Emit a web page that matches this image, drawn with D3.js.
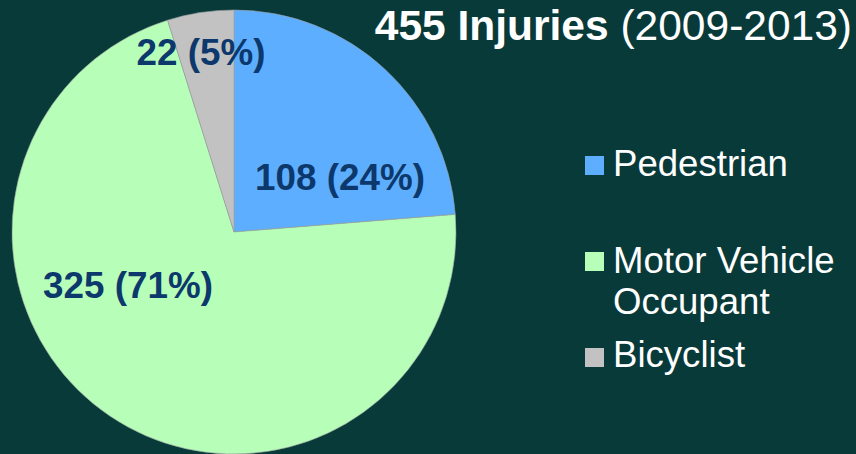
<!DOCTYPE html>
<html><head><meta charset="utf-8">
<script src="https://cdn.jsdelivr.net/npm/d3@7"></script>
<style>html,body{margin:0;padding:0;background:#093a3a;}svg{display:block;}</style>
</head><body>
<svg id="c" width="856" height="454"></svg>
<script>
const categories = ["Pedestrian", "Motor Vehicle Occupant", "Bicyclist"];
const values = [108, 325, 22];
const percents = ["24%", "71%", "5%"];
const legendLines = [["Pedestrian"], ["Motor Vehicle", "Occupant"], ["Bicyclist"]];
const colors = ["#5eaeff", "#b7ffb9", "#c2c2c2"];

const svg = d3.select("#c");
const W = 856, H = 454;
svg.append("rect").attr("width", W).attr("height", H).attr("fill", "#093a3a");

const cx = 234, cy = 232, R = 222;
const pie = d3.pie().sort(null).value(d => d)(values);
const arc = d3.arc().innerRadius(0).outerRadius(R);
const g = svg.append("g").attr("transform", `translate(${cx},${cy})`);
g.selectAll("path").data(pie).join("path")
  .attr("d", arc)
  .attr("fill", (d, i) => colors[i])
  .attr("stroke", "#9aa0a0").attr("stroke-width", 0.6);

const labelXY = [[340, 190], [128, 298], [201, 65]];
svg.selectAll("text.lbl").data(pie).join("text")
  .attr("class", "lbl")
  .attr("x", (d, i) => labelXY[i][0])
  .attr("y", (d, i) => labelXY[i][1])
  .attr("text-anchor", "middle")
  .attr("font-family", "Liberation Sans, Arial, sans-serif")
  .attr("font-weight", "bold")
  .attr("font-size", 36.8)
  .attr("fill", "#0c386c")
  .text((d, i) => `${values[i]} (${percents[i]})`);

// title
const t = svg.append("text").attr("x", 852).attr("y", 40).attr("text-anchor", "end")
  .attr("font-family", "Liberation Sans, Arial, sans-serif").attr("font-size", 42.5).attr("fill", "#ffffff");
t.append("tspan").attr("font-weight", "bold").text("455 Injuries ");
t.append("tspan").text("(2009-2013)");

// legend
const legY = [[176], [273, 314], [367]];
const sqY = [156, 252, 348];
const leg = svg.append("g");
categories.forEach((c, i) => {
  leg.append("rect").attr("x", 585).attr("y", sqY[i]).attr("width", 19).attr("height", 19).attr("fill", colors[i]);
  legendLines[i].forEach((ln, j) => {
    leg.append("text").attr("x", 613).attr("y", legY[i][j])
      .attr("font-family", "Liberation Sans, Arial, sans-serif").attr("font-size", 36.6)
      .attr("fill", "#ffffff").text(ln);
  });
});
</script>
</body></html>
